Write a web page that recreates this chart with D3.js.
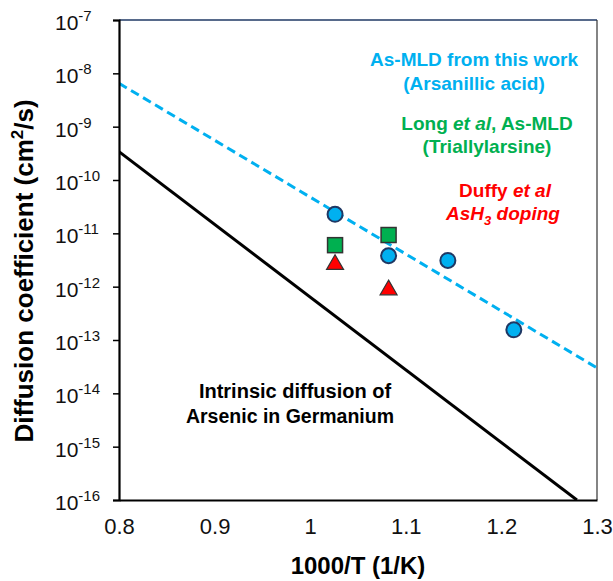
<!DOCTYPE html>
<html>
<head>
<meta charset="utf-8">
<script src="https://cdn.jsdelivr.net/npm/d3@7"></script>
<style>
  body { margin: 0; background: #fff; }
  text { font-family: Arial, "Liberation Sans", sans-serif; }
</style>
</head>
<body>
<div id="chart"></div>
<script>
// values
const thisWork = [
    { x: 1.026, y: 2.27e-11 },
    { x: 1.082, y: 3.8e-12 },
    { x: 1.144, y: 3.1e-12 },
    { x: 1.213, y: 1.55e-13 }
];
const longData = [
    { x: 1.026, y: 6.0e-12 },
    { x: 1.082, y: 9.3e-12 }
];
const duffyData = [
    { x: 1.026, y: 2.6e-12 },
    { x: 1.082, y: 8.7e-13 }
];
const fitLine = [
    { x: 0.8, y: 6.5e-9 },
    { x: 1.3, y: 3.0e-14 }
];
const intrinsicLine = [
    { x: 0.8, y: 3.4e-10 },
    { x: 1.279, y: 1e-16 }
];
const xTicks = [0.8, 0.9, 1.0, 1.1, 1.2, 1.3];
const yExponents = [-7, -8, -9, -10, -11, -12, -13, -14, -15, -16];

const width = 613, height = 581;
const margin = { top: 20, right: 16, bottom: 81, left: 119 };
const w = width - margin.left - margin.right;
const h = height - margin.top - margin.bottom;

const svg = d3.select("#chart").append("svg")
    .attr("width", width)
    .attr("height", height);

const g = svg.append("g")
    .attr("transform", `translate(${margin.left},${margin.top})`);

const x = d3.scaleLinear().domain([0.8, 1.3]).range([0, w]);
const y = d3.scaleLog().domain([1e-16, 1e-7]).range([h, 0]);

g.append("defs").append("clipPath").attr("id", "clip")
    .append("rect").attr("width", w).attr("height", h);

// frame: top navy, right grey
g.append("line").attr("x1", 0).attr("x2", w).attr("y1", 0).attr("y2", 0)
    .attr("stroke", "#1f3864").attr("stroke-width", 1.5);
g.append("line").attr("x1", w).attr("x2", w).attr("y1", 0).attr("y2", h)
    .attr("stroke", "#333").attr("stroke-width", 1.2);

const line = d3.line().x(d => x(d.x)).y(d => y(d.y));

const plot = g.append("g").attr("clip-path", "url(#clip)");
plot.append("path").datum(intrinsicLine)
    .attr("d", line).attr("fill", "none")
    .attr("stroke", "#000").attr("stroke-width", 3);
plot.append("path").datum(fitLine)
    .attr("d", line).attr("fill", "none")
    .attr("stroke", "#00b0f0").attr("stroke-width", 3)
    .attr("stroke-dasharray", "9,5");

// left axis
const yAxis = g.append("g")
    .call(d3.axisLeft(y).tickValues(yExponents.map(e => Math.pow(10, e))).tickSize(6).tickFormat(""));
yAxis.select(".domain").attr("stroke", "#000").attr("stroke-width", 2.2);
yAxis.selectAll(".tick line").attr("stroke", "#000").attr("stroke-width", 1.5);

// tick labels 10^n, left aligned like the original
const yLabels = g.append("g");
yExponents.forEach(e => {
    const t = yLabels.append("text")
        .attr("x", -64)
        .attr("y", y(Math.pow(10, e)) + 10)
        .style("font-size", "21px")
        .attr("fill", "#111");
    t.append("tspan").text("10");
    t.append("tspan").attr("dy", -9).style("font-size", "15px").text(String(e));
});

// bottom axis
const xAxis = g.append("g")
    .attr("transform", `translate(0,${h})`)
    .call(d3.axisBottom(x).tickValues(xTicks).tickSize(0).tickPadding(18)
        .tickFormat(d => d === 1 ? "1" : d3.format(".1f")(d)));
xAxis.select(".domain").attr("stroke", "#000").attr("stroke-width", 2.2);
xAxis.selectAll("text")
    .style("font-size", "22px")
    .style("font-family", "Arial, 'Liberation Sans', sans-serif")
    .attr("fill", "#111");

// axis titles
g.append("text")
    .attr("x", w / 2)
    .attr("y", h + 74)
    .attr("text-anchor", "middle")
    .style("font-size", "24px")
    .style("font-weight", "bold")
    .text("1000/T  (1/K)");

// y title: centre it by measuring, since it holds a superscript
const yt = svg.append("text")
    .attr("transform", `translate(33,271) rotate(-90)`)
    .style("font-size", "26px")
    .style("font-weight", "bold");
yt.append("tspan").text("Diffusion coefficient (cm");
yt.append("tspan").attr("dy", -10).style("font-size", "17px").text("2");
yt.append("tspan").attr("dy", 10).text("/s)");
const ytw = yt.node().getBBox().width;
yt.attr("x", -ytw / 2);

// markers
g.selectAll(".circ").data(thisWork).enter().append("circle")
    .attr("cx", d => x(d.x)).attr("cy", d => y(d.y)).attr("r", 7.5)
    .attr("fill", "#00b0f0").attr("stroke", "#1f3864").attr("stroke-width", 2);

g.selectAll(".sq").data(longData).enter().append("rect")
    .attr("x", d => x(d.x) - 7.5).attr("y", d => y(d.y) - 7.5)
    .attr("width", 15).attr("height", 15)
    .attr("fill", "#00b050").attr("stroke", "#333").attr("stroke-width", 1.5);

const tri = d3.symbol().type(d3.symbolTriangle).size(125);
g.selectAll(".tri").data(duffyData).enter().append("path")
    .attr("d", tri)
    .attr("transform", d => `translate(${x(d.x)},${y(d.y)})`)
    .attr("fill", "#ff0000").attr("stroke", "#333").attr("stroke-width", 1.2);

// annotations
function label(cx, cy, color, parts, italicAll) {
    const t = svg.append("text")
        .attr("x", cx).attr("y", cy)
        .attr("text-anchor", "middle")
        .style("font-size", "19px")
        .style("font-weight", "bold")
        .attr("fill", color);
    parts.forEach(p => {
        const s = t.append("tspan").text(p.t);
        if (p.i || italicAll) s.style("font-style", "italic");
        if (p.sub) s.attr("dy", 5).style("font-size", "13px");
        if (p.back) s.attr("dy", -5);
    });
    return t;
}
label(474, 66, "#00b0f0", [{ t: "As-MLD from this work" }]);
label(474, 90, "#00b0f0", [{ t: "(Arsanillic acid)" }]);
label(487, 130, "#00b050", [{ t: "Long " }, { t: "et al", i: true }, { t: ", As-MLD" }]);
label(487, 153, "#00b050", [{ t: "(Triallylarsine)" }]);
label(505, 197, "#ff0000", [{ t: "Duffy " }, { t: "et al", i: true }]);
label(503, 220, "#ff0000", [{ t: "AsH" }, { t: "3", sub: true }, { t: " doping", back: true }], true);
label(295, 398, "#000", [{ t: "Intrinsic diffusion of" }]).style("font-size", "20px");
label(290, 423, "#000", [{ t: "Arsenic in Germanium" }]).style("font-size", "19.5px");
</script>
</body>
</html>
